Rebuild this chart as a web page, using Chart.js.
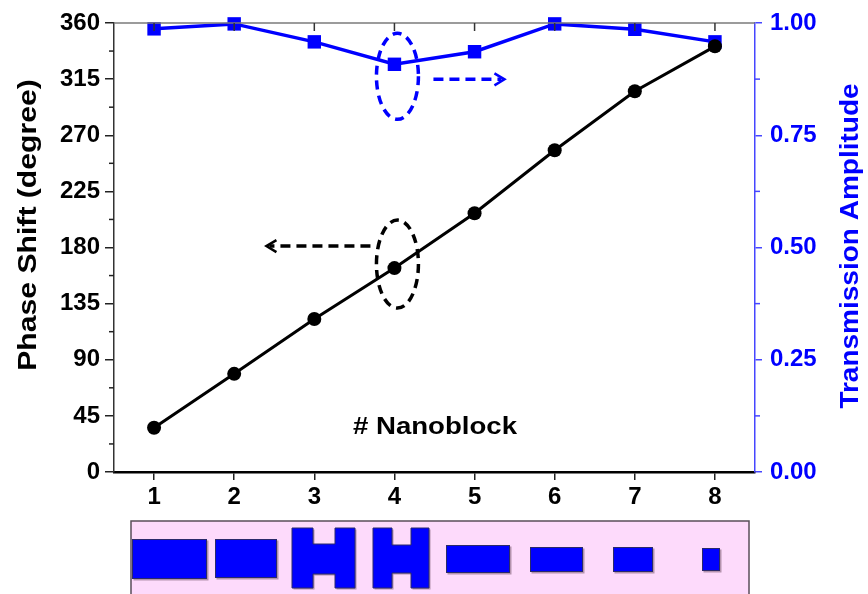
<!DOCTYPE html>
<html>
<head>
<meta charset="utf-8">
<script src="https://cdn.jsdelivr.net/npm/chart.js@4.4.1/dist/chart.umd.min.js"></script>
<style>
  html, body { margin: 0; padding: 0; background: #ffffff; }
  #wrap { position: relative; width: 868px; height: 594px; overflow: hidden; }
  canvas { display: block; }
</style>
</head>
<body>
<div id="wrap"><canvas id="chart" width="868" height="594"></canvas></div>
<script>
// Nanoblock index along the array
const nanoblocks = [1, 2, 3, 4, 5, 6, 7, 8];
// Phase shift of each nanoblock (degrees)
const phaseShift = [35.5, 78.7, 122.7, 163.5, 207.5, 258, 305.3, 341.3];
// Transmission amplitude of each nanoblock
const transmission = [0.987, 0.998, 0.958, 0.908, 0.936, 0.998, 0.986, 0.958];
// Axis tick values
const phaseTicks = [0, 45, 90, 135, 180, 225, 270, 315, 360];
const ampTicks = [0, 0.25, 0.5, 0.75, 1.0];
// Axis titles
const phaseTitle = 'Phase Shift (degree)';
const ampTitle = 'Transmission Amplitude';

const FONT = '"Liberation Sans", Arial, sans-serif';
const BLUE = '#0000ff';

// Chart area edges (canvas pixels)
const AREA = { left: 114, right: 755, top: 23, bottom: 472 };

function fixTicks(values) {
  return function (scale) { scale.ticks = values.map(v => ({ value: v })); };
}

// Draw text rotated to read bottom-to-top, slightly widened along its run
function verticalText(ctx, text, cx, cy, color, size, stretch) {
  ctx.save();
  ctx.translate(cx, cy);
  ctx.rotate(-Math.PI / 2);
  ctx.scale(stretch, 1);
  ctx.fillStyle = color;
  ctx.font = 'bold ' + size + 'px ' + FONT;
  ctx.textAlign = 'center';
  ctx.textBaseline = 'middle';
  ctx.fillText(text, 0, 0);
  ctx.restore();
}

// Minor ticks, top frame, axis titles, call-out ellipses/arrows, label and nanoblock sketches
const decorations = {
  id: 'decorations',
  afterDatasetsDraw(chart) {
    const ctx = chart.ctx;
    const x = chart.scales.x, yL = chart.scales.yL, yR = chart.scales.yR;
    const ca = chart.chartArea;
    ctx.save();

    // top frame line with inward category ticks
    ctx.strokeStyle = '#7a7a7a';
    ctx.lineWidth = 1.5;
    ctx.beginPath();
    ctx.moveTo(ca.left, ca.top); ctx.lineTo(ca.right, ca.top);
    ctx.stroke();
    ctx.strokeStyle = '#333';
    nanoblocks.forEach(v => {
      const px = x.getPixelForValue(v);
      ctx.beginPath(); ctx.moveTo(px, ca.top); ctx.lineTo(px, ca.top + 8); ctx.stroke();
    });

    // left minor ticks (outward)
    ctx.strokeStyle = '#222';
    for (let i = 0; i < phaseTicks.length - 1; i++) {
      const v = (phaseTicks[i] + phaseTicks[i + 1]) / 2;
      const py = yL.getPixelForValue(v);
      ctx.beginPath(); ctx.moveTo(ca.left, py); ctx.lineTo(ca.left - 5, py); ctx.stroke();
    }
    // right minor ticks (outward)
    ctx.strokeStyle = '#4646ff';
    for (let i = 0; i < ampTicks.length - 1; i++) {
      const v = (ampTicks[i] + ampTicks[i + 1]) / 2;
      const py = yR.getPixelForValue(v);
      ctx.beginPath(); ctx.moveTo(ca.right, py); ctx.lineTo(ca.right + 5, py); ctx.stroke();
    }

    // axis titles, both reading upward
    verticalText(ctx, phaseTitle, 29, 225, '#000', 26, 1.16);
    verticalText(ctx, ampTitle, 851, 246, BLUE, 25, 1.12);

    // dashed call-out ellipses and arrows around nanoblock #4
    const bx = x.getPixelForValue(4) + 3;
    const byBlue = yR.getPixelForValue(transmission[3]) + 12;
    const byBlack = yL.getPixelForValue(phaseShift[3]) - 4;
    ctx.lineWidth = 3.5;
    ctx.setLineDash([9, 6]);
    ctx.strokeStyle = BLUE;
    ctx.beginPath(); ctx.ellipse(bx, byBlue, 21, 43, 0, 0, Math.PI * 2); ctx.stroke();
    ctx.strokeStyle = '#000';
    ctx.beginPath(); ctx.ellipse(bx, byBlack, 21, 44, 0, 0, Math.PI * 2); ctx.stroke();

    // blue arrow pointing right (toward the amplitude axis)
    ctx.strokeStyle = BLUE;
    ctx.setLineDash([10, 6]);
    ctx.beginPath(); ctx.moveTo(bx + 36, byBlue + 3); ctx.lineTo(bx + 104, byBlue + 3); ctx.stroke();
    ctx.setLineDash([]);
    ctx.lineWidth = 2.5;
    ctx.beginPath();
    ctx.moveTo(bx + 97, byBlue - 3); ctx.lineTo(bx + 107, byBlue + 3); ctx.lineTo(bx + 97, byBlue + 9);
    ctx.stroke();

    // black arrow pointing left (toward the phase axis)
    ctx.strokeStyle = '#000';
    ctx.lineWidth = 3.5;
    ctx.setLineDash([10, 6]);
    ctx.beginPath(); ctx.moveTo(bx - 27, byBlack - 18); ctx.lineTo(bx - 128, byBlack - 18); ctx.stroke();
    ctx.setLineDash([]);
    ctx.lineWidth = 2.5;
    ctx.beginPath();
    ctx.moveTo(bx - 121, byBlack - 24); ctx.lineTo(bx - 131, byBlack - 18); ctx.lineTo(bx - 121, byBlack - 12);
    ctx.stroke();

    // "# Nanoblock" label inside the plot
    ctx.fillStyle = '#000';
    ctx.font = 'bold 24px ' + FONT;
    ctx.textAlign = 'center';
    ctx.textBaseline = 'middle';
    ctx.save();
    ctx.translate(435, 427);
    ctx.scale(1.15, 1);
    ctx.fillText('# Nanoblock', 0, 0);
    ctx.restore();

    // nanoblock sketches below the axis
    ctx.fillStyle = '#fddafb';
    ctx.fillRect(131, 521, 618, 80);
    ctx.strokeStyle = '#5a4e5a';
    ctx.lineWidth = 1.5;
    ctx.strokeRect(131, 521, 618, 80);

    const rects = [
      [132, 539, 75, 40], [215, 539, 62, 39],
      [446, 545, 64, 28], [530, 547, 53, 25],
      [613, 547, 40, 25], [702, 548, 18, 23]
    ];
    const hShapes = [
      { l: 292, r: 355, t: 528, b: 588, nl: 313, nr: 335, nt: 544, nb: 574 },
      { l: 373, r: 429, t: 528, b: 588, nl: 392, nr: 411, nt: 545, nb: 573 }
    ];
    function hPath(h, dx, dy) {
      ctx.beginPath();
      ctx.moveTo(h.l + dx, h.t + dy);
      ctx.lineTo(h.nl + dx, h.t + dy); ctx.lineTo(h.nl + dx, h.nt + dy);
      ctx.lineTo(h.nr + dx, h.nt + dy); ctx.lineTo(h.nr + dx, h.t + dy);
      ctx.lineTo(h.r + dx, h.t + dy); ctx.lineTo(h.r + dx, h.b + dy);
      ctx.lineTo(h.nr + dx, h.b + dy); ctx.lineTo(h.nr + dx, h.nb + dy);
      ctx.lineTo(h.nl + dx, h.nb + dy); ctx.lineTo(h.nl + dx, h.b + dy);
      ctx.lineTo(h.l + dx, h.b + dy); ctx.closePath();
    }
    // soft shadow
    ctx.fillStyle = 'rgba(120,90,110,0.55)';
    rects.forEach(r => ctx.fillRect(r[0] + 1.5, r[1] + 1.5, r[2], r[3]));
    hShapes.forEach(h => { hPath(h, 1.5, 1.5); ctx.fill(); });
    // blue bodies
    ctx.fillStyle = BLUE;
    ctx.strokeStyle = '#2a2a6a';
    ctx.lineWidth = 1;
    rects.forEach(r => { ctx.fillRect(r[0], r[1], r[2], r[3]); ctx.strokeRect(r[0] + 0.5, r[1] + 0.5, r[2] - 1, r[3] - 1); });
    hShapes.forEach(h => { hPath(h, 0, 0); ctx.fill(); ctx.stroke(); });

    ctx.restore();
  }
};

const tickFont = { family: FONT, size: 24, weight: 'bold' };

new Chart(document.getElementById('chart'), {
  type: 'line',
  data: {
    datasets: [
      {
        label: 'Phase Shift',
        data: nanoblocks.map((n, i) => ({ x: n, y: phaseShift[i] })),
        yAxisID: 'yL',
        borderColor: '#000',
        backgroundColor: '#000',
        borderWidth: 3,
        pointStyle: 'circle',
        pointRadius: 7,
        pointBorderWidth: 0,
        tension: 0,
        clip: false
      },
      {
        label: 'Transmission Amplitude',
        data: nanoblocks.map((n, i) => ({ x: n, y: transmission[i] })),
        yAxisID: 'yR',
        borderColor: BLUE,
        backgroundColor: BLUE,
        borderWidth: 3.5,
        pointStyle: 'rect',
        pointRadius: 9.5,
        pointBorderWidth: 0,
        tension: 0,
        clip: false
      }
    ]
  },
  options: {
    responsive: false,
    animation: false,
    layout: { padding: { top: AREA.top, left: 0, right: 0, bottom: 0 } },
    plugins: { legend: { display: false }, tooltip: { enabled: false } },
    scales: {
      x: {
        type: 'linear',
        position: 'bottom',
        min: 0.5,
        max: 8.5,
        afterBuildTicks: fixTicks(nanoblocks),
        afterFit(scale) { scale.height = 594 - AREA.bottom; },
        ticks: { color: '#000', font: tickFont, padding: 3, maxRotation: 0 },
        grid: { drawOnChartArea: false, drawTicks: true, tickLength: 8, color: '#222', lineWidth: 1.5 },
        border: { color: '#000', width: 2.5 }
      },
      yL: {
        type: 'linear',
        position: 'left',
        min: 0,
        max: 360,
        afterBuildTicks: fixTicks(phaseTicks),
        afterFit(scale) { scale.width = AREA.left; },
        ticks: { color: '#000', font: tickFont, padding: 5 },
        grid: { drawOnChartArea: false, drawTicks: true, tickLength: 9, color: '#222', lineWidth: 1.5 },
        border: { color: '#333', width: 1.5 }
      },
      yR: {
        type: 'linear',
        position: 'right',
        min: 0,
        max: 1,
        afterBuildTicks: fixTicks(ampTicks),
        afterFit(scale) { scale.width = 868 - AREA.right; },
        ticks: { color: BLUE, font: tickFont, padding: 8, callback: v => v.toFixed(2) },
        grid: { drawOnChartArea: false, drawTicks: true, tickLength: 7, color: '#4646ff', lineWidth: 1.5 },
        border: { color: '#4646ff', width: 1.5 }
      }
    }
  },
  plugins: [decorations]
});
</script>
</body>
</html>
